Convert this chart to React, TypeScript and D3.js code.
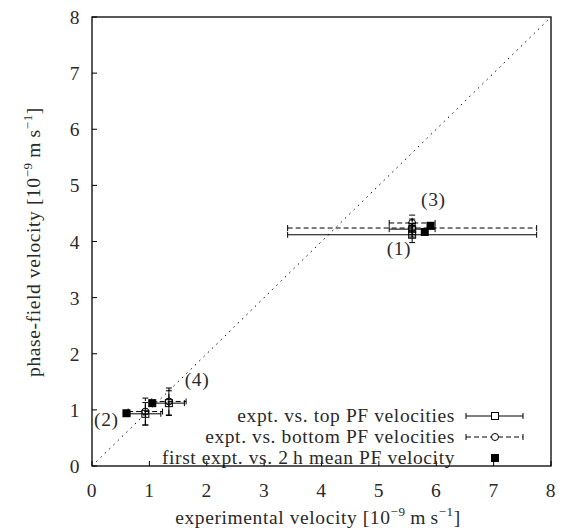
import React from "react";
import * as d3 from "d3";

// series: [x, y, xerr, yerr]
const topPF: number[][] = [
  [5.58, 4.12, 2.17, 0.14],
  [5.58, 4.22, 0.4, 0.1],
  [0.93, 0.93, 0.27, 0.2],
  [1.34, 1.12, 0.27, 0.22],
];
const bottomPF: number[][] = [
  [5.58, 4.24, 2.17, 0.16],
  [5.58, 4.33, 0.4, 0.14],
  [0.93, 0.97, 0.3, 0.24],
  [1.34, 1.15, 0.3, 0.24],
];
const firstExpt: number[][] = [
  [5.8, 4.17],
  [5.9, 4.28],
  [0.6, 0.94],
  [1.05, 1.12],
];
const caseLabels = ["(1)", "(2)", "(3)", "(4)"];
const caseLabelPos: number[][] = [
  [5.35, 3.76],
  [0.25, 0.72],
  [5.95, 4.64],
  [1.83, 1.43],
];
const xTicks = [0, 1, 2, 3, 4, 5, 6, 7, 8];
const yTicks = [0, 1, 2, 3, 4, 5, 6, 7, 8];
const legendLabels = [
  "expt. vs. top PF velocities",
  "expt. vs. bottom PF velocities",
  "first expt. vs. 2\u2009h mean PF velocity",
];

const W = 565, H = 531;
const L = 92, R = 551, T = 17, B = 466;
const FONT = "'Liberation Serif', 'DejaVu Serif', serif";
const FS = 19.5;
const LS = 0.6;
const TXT = "#2a2a2a";

export default function App() {
  const x = d3.scaleLinear().domain([0, 8]).range([L, R]);
  const y = d3.scaleLinear().domain([0, 8]).range([B, T]);
  const cap = 3;

  const errBar = (d: number[], dash: string | undefined, key: string) => {
    const cx = x(d[0]), cy = y(d[1]);
    const x0 = x(d[0] - d[2]), x1 = x(d[0] + d[2]);
    const y0 = y(d[1] - d[3]), y1 = y(d[1] + d[3]);
    return (
      <g key={key} stroke="#000" strokeWidth={1} fill="none">
        <line x1={x0} x2={x1} y1={cy} y2={cy} strokeDasharray={dash} />
        <line x1={x0} x2={x0} y1={cy - cap} y2={cy + cap} />
        <line x1={x1} x2={x1} y1={cy - cap} y2={cy + cap} />
        <line x1={cx} x2={cx} y1={y0} y2={y1} strokeDasharray={dash} />
        <line x1={cx - cap} x2={cx + cap} y1={y0} y2={y0} />
        <line x1={cx - cap} x2={cx + cap} y1={y1} y2={y1} />
      </g>
    );
  };

  const legY = [416, 437, 458];
  const legTextX = 455, legL = 466, legR = 523, legM = 495;

  return (
    <svg width={W} height={H} style={{ position: "absolute", left: 0, top: 0 }} fontFamily={FONT} letterSpacing={LS}>
      <rect width={W} height={H} fill="#fff" />
      {/* diagonal */}
      <line x1={x(0)} y1={y(0)} x2={x(8)} y2={y(8)} stroke="#000" strokeWidth={1} strokeDasharray="1.5,4.5" />
      {/* ticks */}
      {xTicks.map((t) => (
        <g key={"xt" + t}>
          <line x1={x(t)} x2={x(t)} y1={B} y2={B - 5} stroke="#000" />
          <text x={x(t)} y={497} textAnchor="middle" fontSize={FS} fill={TXT}>{t}</text>
        </g>
      ))}
      {yTicks.map((t) => (
        <g key={"yt" + t}>
          <line x1={L} x2={L + 5} y1={y(t)} y2={y(t)} stroke="#000" />
          <text x={80} y={y(t) + 7} textAnchor="end" fontSize={FS} fill={TXT}>{t}</text>
        </g>
      ))}
      {/* data */}
      {topPF.map((d, i) => errBar(d, undefined, "t" + i))}
      {topPF.map((d, i) => (
        <rect key={"ts" + i} x={x(d[0]) - 3.5} y={y(d[1]) - 3.5} width={7} height={7} fill="none" stroke="#000" />
      ))}
      {bottomPF.map((d, i) => errBar(d, "5,3", "b" + i))}
      {bottomPF.map((d, i) => (
        <circle key={"bc" + i} cx={x(d[0])} cy={y(d[1])} r={3.5} fill="none" stroke="#000" />
      ))}
      {firstExpt.map((d, i) => (
        <rect key={"f" + i} x={x(d[0]) - 4} y={y(d[1]) - 4} width={8} height={8} fill="#000" />
      ))}
      {caseLabels.map((c, i) => (
        <text key={"c" + i} x={x(caseLabelPos[i][0])} y={y(caseLabelPos[i][1])} textAnchor="middle" fontSize={FS} fill={TXT}>{c}</text>
      ))}
      {/* legend */}
      {legendLabels.map((l, i) => (
        <text key={"l" + i} x={legTextX} y={legY[i] + 6} textAnchor="end" fontSize={FS} fill={TXT}>{l}</text>
      ))}
      <g stroke="#000" fill="none">
        <line x1={legL} x2={legR} y1={legY[0]} y2={legY[0]} />
        <line x1={legL} x2={legL} y1={legY[0] - 3} y2={legY[0] + 3} />
        <line x1={legR} x2={legR} y1={legY[0] - 3} y2={legY[0] + 3} />
        <rect x={legM - 3.5} y={legY[0] - 3.5} width={7} height={7} fill="#fff" />
        <line x1={legL} x2={legR} y1={legY[1]} y2={legY[1]} strokeDasharray="5,3" />
        <line x1={legL} x2={legL} y1={legY[1] - 3} y2={legY[1] + 3} />
        <line x1={legR} x2={legR} y1={legY[1] - 3} y2={legY[1] + 3} />
        <circle cx={legM} cy={legY[1]} r={3.5} fill="#fff" />
      </g>
      <rect x={legM - 4} y={legY[2] - 4} width={8} height={8} fill="#000" />
      {/* frame */}
      <rect x={L} y={T} width={R - L} height={B - T} fill="none" stroke="#000" strokeWidth={1.3} />
      {/* axis labels */}
      <text x={318} y={524} textAnchor="middle" fontSize={FS} fill={TXT}>
        experimental velocity [10<tspan dy={-8} fontSize={13}>−9</tspan><tspan dy={8}>{"\u2009"}m{"\u2009"}s</tspan><tspan dy={-8} fontSize={13}>−1</tspan><tspan dy={8}>]</tspan>
      </text>
      <text transform={`translate(40,242) rotate(-90)`} textAnchor="middle" fontSize={FS} fill={TXT}>
        phase-field velocity [10<tspan dy={-8} fontSize={13}>−9</tspan><tspan dy={8}>{"\u2009"}m{"\u2009"}s</tspan><tspan dy={-8} fontSize={13}>−1</tspan><tspan dy={8}>]</tspan>
      </text>
    </svg>
  );
}
